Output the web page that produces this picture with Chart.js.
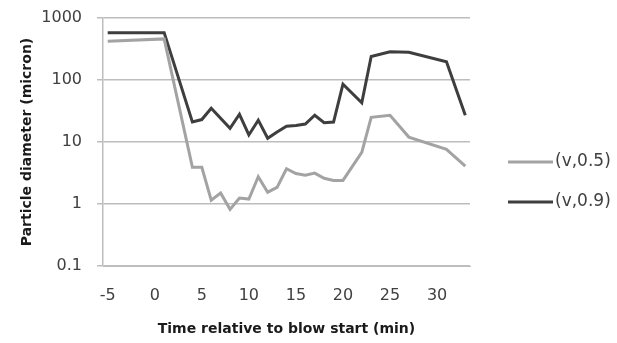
<!DOCTYPE html>
<html>
<head>
<meta charset="utf-8">
<script src="https://cdn.jsdelivr.net/npm/chart.js@4"></script>
<style>
  html, body { margin: 0; padding: 0; background: #fff; }
  #wrap { width: 617px; height: 343px; }
</style>
</head>
<body>
<div id="wrap"><canvas id="chart" width="617" height="343"></canvas></div>
<script>
// Time relative to blow start (min); null = no vertex there, line is drawn straight through
const minutes = [-5, 1, 4, 5, 6, 7, 8, 9, 10, 11, 12, 13, 14, 15, 16, 17, 18, 19, 20, 21, 22, 23, 25, 27, 31, 33];
const dv50 = [420, 460, 3.9, 3.9, 1.15, 1.5, 0.82, 1.25, 1.2, 2.75, 1.55, 1.85, 3.7, 3.1, 2.9, 3.15, 2.6, 2.4, 2.4, null, 6.8, 25, 27, 12, 7.6, 4.1];
const dv90 = [580, 580, 21, 23, 35, null, 16.6, 28, 13, 22.5, 11.5, 14.5, 18, 18.5, 19.5, 27, 20.5, 21, 86, null, 43, 240, 286, 280, 197, 27];
const seriesNames = ['(v,0.5)', '(v,0.9)'];
const xTicks = [-5, 0, 5, 10, 15, 20, 25, 30];
const yTicks = [0.1, 1, 10, 100, 1000];

const FONT = 'DejaVu Sans';
const pts = vals => minutes.map((t, i) => ({ x: t, y: vals[i] }));

// legend sits to the right of the plot, a bit below its middle
const sideLegend = {
    id: 'sideLegend',
    afterDraw(chart) {
        const { ctx, chartArea } = chart;
        const x0 = chartArea.right + 38;
        ctx.save();
        ctx.font = '17px "' + FONT + '"';
        ctx.textBaseline = 'middle';
        ctx.textAlign = 'left';
        chart.data.datasets.forEach((ds, i) => {
            const y = 162 + i * 40;
            ctx.strokeStyle = ds.borderColor;
            ctx.lineWidth = 3;
            ctx.beginPath();
            ctx.moveTo(x0, y);
            ctx.lineTo(x0 + 45, y);
            ctx.stroke();
            ctx.fillStyle = '#404040';
            ctx.fillText(ds.label, x0 + 47, y);
        });
        ctx.restore();
    }
};

const ctx = document.getElementById('chart').getContext('2d');
new Chart(ctx, {
    type: 'line',
    data: {
        datasets: [{
            label: seriesNames[0],
            data: pts(dv50),
            borderColor: '#a3a3a3',
            borderWidth: 3,
            pointRadius: 0,
            tension: 0,
            spanGaps: true
        }, {
            label: seriesNames[1],
            data: pts(dv90),
            borderColor: '#3e3e3e',
            borderWidth: 3,
            pointRadius: 0,
            tension: 0,
            spanGaps: true
        }]
    },
    options: {
        responsive: false,
        animation: false,
        layout: { padding: { top: 18, left: 16, right: 147, bottom: 5 } },
        plugins: {
            legend: { display: false },
            tooltip: { enabled: false }
        },
        scales: {
            x: {
                type: 'linear',
                min: -5.5,
                max: 33.5,
                afterBuildTicks: axis => { axis.ticks = xTicks.map(v => ({ value: v })); },
                afterFit: axis => { axis.height = 72; axis.paddingLeft = 0; axis.paddingRight = 0; },
                grid: { display: false, drawTicks: false },
                border: { display: true, color: '#bdbdbd', width: 1 },
                ticks: {
                    color: '#404040',
                    padding: 20,
                    maxRotation: 0,
                    font: { family: FONT, size: 16 }
                },
                title: {
                    display: true,
                    text: 'Time relative to blow start (min)',
                    color: '#1a1a1a',
                    padding: { top: 0, bottom: 0 },
                    font: { family: FONT, size: 14, weight: 'bold' }
                }
            },
            y: {
                type: 'logarithmic',
                min: 0.1,
                max: 1000,
                afterBuildTicks: axis => { axis.ticks = yTicks.map(v => ({ value: v })); },
                afterFit: axis => { axis.width = 87; axis.paddingTop = 0; axis.paddingBottom = 0; },
                grid: { color: '#bdbdbd', lineWidth: 1.5, drawTicks: true, tickLength: 6 },
                border: { display: true, color: '#bdbdbd', width: 1.5 },
                ticks: {
                    color: '#404040',
                    padding: 15,
                    font: { family: FONT, size: 16 },
                    callback: v => String(v)
                },
                title: {
                    display: true,
                    text: 'Particle diameter (micron)',
                    color: '#1a1a1a',
                    padding: { top: 3, bottom: 6 },
                    font: { family: FONT, size: 14, weight: 'bold' }
                }
            }
        }
    },
    plugins: [sideLegend]
});
</script>
</body>
</html>
